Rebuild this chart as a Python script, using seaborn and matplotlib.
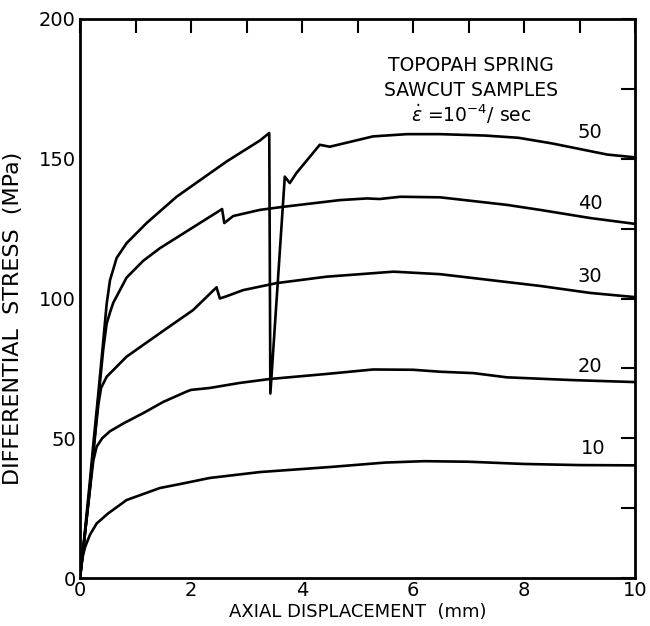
import matplotlib
matplotlib.use("Agg")
import matplotlib.pyplot as plt
import seaborn as sns
import pandas as pd
from matplotlib.ticker import MultipleLocator

# ---- data ----
x10 = [0, 0.03, 0.09, 0.18, 0.3, 0.5, 0.84, 1.44, 1.8, 2.34, 3.24, 4.5, 5.5, 6.2, 7.0, 8.0, 9.0, 10.0]
y10 = [0, 6, 11, 15.5, 19.5, 23, 27.9, 32.2, 33.6, 35.8, 37.9, 39.7, 41.3, 41.8, 41.6, 40.8, 40.4, 40.3]

x20 = [0, 0.04, 0.09, 0.18, 0.24, 0.3, 0.4, 0.54, 0.8, 1.14, 1.5, 1.92, 2.0, 2.34, 2.88, 3.42, 4.44,
       5.28, 6.0, 6.49, 7.09, 7.69, 8.88, 10.0]
y20 = [0, 7, 16, 32, 42, 47, 50, 52.5, 55.5, 59, 63, 66.7, 67.3, 68, 69.8, 71.2, 73,
       74.6, 74.5, 73.8, 73.3, 71.8, 70.8, 70.1]

x30 = [0, 0.04, 0.09, 0.18, 0.24, 0.33, 0.38, 0.48, 0.84, 1.44, 2.04, 2.46, 2.52, 2.64, 2.94, 3.54,
       4.44, 5.65, 6.49, 7.39, 8.29, 9.19, 10.0]
y30 = [0, 7, 16, 32, 45, 62, 68, 72, 79.2, 87.6, 95.9, 104, 100, 100.8, 103, 105.5,
       107.8, 109.6, 108.7, 106.6, 104.5, 102, 100.5]

x40 = [0, 0.04, 0.09, 0.18, 0.24, 0.33, 0.42, 0.48, 0.54, 0.6, 0.84, 1.14, 1.44, 2.04, 2.56, 2.6,
       2.76, 3.24, 3.66, 4.68, 5.17, 5.4, 5.77, 6.49, 7.69, 8.29, 9.19, 10.0]
y40 = [0, 7, 16, 33, 45, 64, 82, 91, 95, 98.5, 107.5, 113.5, 118, 125.5, 132, 127,
       129.5, 131.7, 132.8, 135.2, 135.8, 135.6, 136.4, 136.2, 133.5, 131.7, 128.8, 126.7]

x50 = [0, 0.04, 0.09, 0.18, 0.24, 0.33, 0.42, 0.48, 0.54, 0.66, 0.84, 1.2, 1.74, 2.64, 3.24, 3.41,
       3.43, 3.69, 3.78, 3.9, 4.32, 4.5, 5.28, 5.89, 6.49, 7.3, 7.9, 8.5, 9.0, 9.5, 10.0]
y50 = [0, 7, 17, 35, 48, 66, 85, 98, 106.5, 114.5, 119.8, 127, 136.4, 149, 156.5, 159.2,
       66, 143.6, 141.3, 144.9, 155, 154.3, 158, 158.8, 158.8, 158.3, 157.5, 155.5, 153.5, 151.5, 150.5]

curve_names = ["10", "20", "30", "40", "50"]
label_x = [9.25, 9.19, 9.19, 9.19, 9.19]
label_y = [46.5, 75.6, 107.8, 134.0, 159.5]

annotation_lines = ["TOPOPAH SPRING", "SAWCUT SAMPLES", r"$\dot{\epsilon}$ =10$^{-4}$/ sec"]

series = {
    "10": (x10, y10),
    "20": (x20, y20),
    "30": (x30, y30),
    "40": (x40, y40),
    "50": (x50, y50),
}

sns.set_style("white")
plt.rcParams["font.family"] = ["DejaVu Sans"]
plt.rcParams["text.color"] = "black"
plt.rcParams["axes.labelcolor"] = "black"
plt.rcParams["xtick.color"] = "black"
plt.rcParams["ytick.color"] = "black"

fig = plt.figure(figsize=(6.5, 6.26), dpi=100)
ax = fig.add_axes([80 / 650, 1 - 578 / 626, 555 / 650, 559 / 626])

for name in curve_names:
    xs, ys = series[name]
    df = pd.DataFrame({"x": xs, "y": ys})
    sns.lineplot(data=df, x="x", y="y", ax=ax, color="black", linewidth=1.9,
                 estimator=None, sort=False)

for name, lx, ly in zip(curve_names, label_x, label_y):
    ax.text(lx, ly, name, fontsize=14, ha="center", va="center", color="black")

ann_y = [183.5, 174.5, 166.0]
for txt, yy in zip(annotation_lines, ann_y):
    ax.text(7.05, yy, txt, fontsize=13.5, ha="center", va="center", color="black")

ax.set_xlim(0, 10)
ax.set_ylim(0, 200)
ax.xaxis.set_major_locator(MultipleLocator(2))
ax.xaxis.set_minor_locator(MultipleLocator(1))
ax.yaxis.set_major_locator(MultipleLocator(50))
ax.yaxis.set_minor_locator(MultipleLocator(25))
ax.tick_params(which="both", direction="in", top=True, right=True, length=10, width=1.5,
               labelsize=14, color="black", labelcolor="black")
ax.tick_params(axis="x", pad=2)
ax.tick_params(axis="y", pad=3)
for s in ax.spines.values():
    s.set_linewidth(2)
    s.set_color("black")

ax.set_xlabel("AXIAL DISPLACEMENT  (mm)", fontsize=13, color="black")
ax.set_ylabel("DIFFERENTIAL  STRESS  (MPa)", fontsize=16, color="black")
ax.xaxis.set_label_coords(0.5, -0.044)
ax.yaxis.set_label_coords(-0.102, 0.465)

fig.savefig("out.png", dpi=100)
